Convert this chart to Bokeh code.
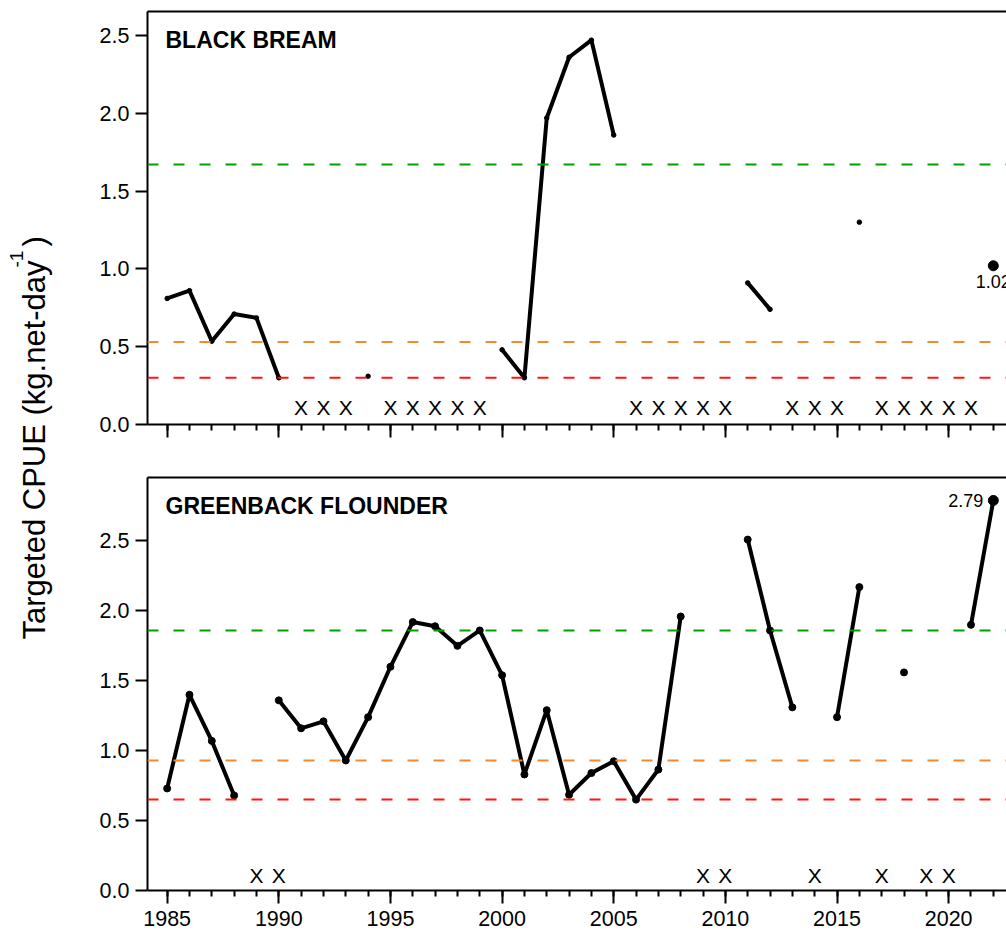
import math
import numpy as np
from bokeh.plotting import figure
from bokeh.layouts import row, column
from bokeh.models import (Span, LinearAxis, SingleIntervalTicker, FixedTicker,
                          NumeralTickFormatter, CustomJSTickFormatter, Range1d)
from bokeh.core.properties import value
from bokeh.embed import file_html
from bokeh.resources import INLINE

nan = float("nan")
years = list(range(1985, 2023))

# Targeted CPUE (kg per net-day); nan = no estimate for that year
black_bream = [0.81, 0.86, 0.535, 0.71, 0.685, 0.30, nan, nan, nan, 0.31,
               nan, nan, nan, nan, nan, 0.48, 0.30, 1.97, 2.36, 2.47,
               1.86, nan, nan, nan, nan, nan, 0.91, 0.74, nan, nan,
               nan, 1.30, nan, nan, nan, nan, nan, 1.02]
greenback_flounder = [0.73, 1.40, 1.07, 0.68, nan, 1.36, 1.16, 1.21, 0.93, 1.24,
                      1.60, 1.92, 1.89, 1.75, 1.86, 1.54, 0.83, 1.29, 0.685, 0.84,
                      0.925, 0.65, 0.865, 1.96, nan, nan, 2.51, 1.86, 1.31, nan,
                      1.24, 2.17, nan, 1.56, nan, nan, 1.90, 2.79]

# years flagged with an "X" (insufficient data)
bb_flagged = [1991, 1992, 1993, 1995, 1996, 1997, 1998, 1999,
              2006, 2007, 2008, 2009, 2010, 2013, 2014, 2015,
              2017, 2018, 2019, 2020, 2021]
gf_flagged = [1989, 1990, 2009, 2010, 2014, 2017, 2019, 2020]

# reference levels: target, threshold, limit
bb_levels = [1.67, 0.53, 0.30]
gf_levels = [1.86, 0.93, 0.65]
level_colors = ["#00A000", "#F28A30", "#FF1414"]

y_ticks = [0.0, 0.5, 1.0, 1.5, 2.0, 2.5]

FONT = value("Liberation Sans")
X_START, X_END = 1984.12, 2022.59
FRAME_W, FRAME_H = 859, 413
PX_PER_YEAR = FRAME_W / (X_END - X_START)


def panel(title, vals, levels, flagged, y_max, height, b_top, b_bottom,
          show_years, dot_size, last_label_side):
    p = figure(width=926, height=height,
               x_range=Range1d(X_START, X_END), y_range=Range1d(0, y_max),
               x_axis_type=None, y_axis_type=None,
               output_backend="svg", toolbar_location=None,
               min_border_left=67, min_border_right=0,
               min_border_top=b_top, min_border_bottom=b_bottom)
    p.outline_line_color = None
    p.background_fill_color = "white"

    xa = LinearAxis(ticker=SingleIntervalTicker(interval=5, num_minor_ticks=5))
    xa.axis_line_width = 2
    xa.major_tick_line_width = 2
    xa.minor_tick_line_width = 2
    xa.major_tick_in = 0
    xa.major_tick_out = 13
    xa.minor_tick_in = 0
    xa.minor_tick_out = 6
    xa.major_label_text_font = "Liberation Sans"
    xa.major_label_text_color = "black"
    xa.major_label_text_font_size = "21.5px"
    if show_years:
        xa.major_label_standoff = 7
    else:
        xa.formatter = CustomJSTickFormatter(code="return ''")
        xa.major_label_standoff = 0
    p.add_layout(xa, "below")

    ya = LinearAxis(ticker=FixedTicker(ticks=y_ticks),
                    formatter=NumeralTickFormatter(format="0.0"))
    ya.axis_line_width = 2
    ya.major_tick_line_width = 2
    ya.major_tick_in = 0
    ya.major_tick_out = 12
    ya.minor_tick_line_color = None
    ya.major_label_text_font = "Liberation Sans"
    ya.major_label_text_font_size = "21.5px"
    ya.major_label_text_color = "black"
    ya.major_label_standoff = 6
    p.add_layout(ya, "left")

    # top edge of the frame
    top = LinearAxis(ticker=FixedTicker(ticks=[]))
    top.axis_line_width = 2
    top.major_tick_line_color = None
    top.minor_tick_line_color = None
    top.major_label_standoff = 0
    p.add_layout(top, "above")

    for lv, col in zip(levels, level_colors):
        p.add_layout(Span(location=lv, dimension="width", line_color=col,
                          line_dash="11 15", line_width=2))

    xs = np.array(years, dtype=float)
    ys = np.array(vals, dtype=float)
    p.line(xs, ys, line_color="black", line_width=4, line_join="round")
    ok = np.isfinite(ys)
    p.scatter(xs[ok][:-1], ys[ok][:-1], size=dot_size, color="black")
    p.scatter([xs[-1]], [ys[-1]], size=10, color="black")

    if last_label_side == "below":
        p.text(x=[xs[-1]], y=[ys[-1]], text=[f"{ys[-1]:.2f}"],
               text_align="center", text_baseline="top", y_offset=9,
               text_font=FONT, text_font_size="18px", text_color="black")
    else:
        p.text(x=[xs[-1]], y=[ys[-1]], text=[f"{ys[-1]:.2f}"],
               text_align="right", text_baseline="middle", x_offset=-10,
               text_font=FONT, text_font_size="18px", text_color="black")

    p.text(x=flagged, y=[0.11] * len(flagged), text=["X"] * len(flagged),
           text_align="center", text_baseline="middle",
           text_font=FONT, text_font_size="21px", text_color="black")

    # panel title, 18 px in from the left edge, centred 28 px below the top
    title_x = X_START + 18 / PX_PER_YEAR
    title_y = y_max * (1 - 28 / FRAME_H)
    p.text(x=[title_x], y=[title_y], text=[title], text_align="left",
           text_baseline="middle", text_font=FONT,
           text_font_style="bold", text_font_size="23px", text_color="black")
    return p


p_top = panel("BLACK BREAM", black_bream, bb_levels, bb_flagged,
              2.654, 460, 11, 36, False, 4.5, "below")
p_bot = panel("GREENBACK FLOUNDER", greenback_flounder, gf_levels, gf_flagged,
              2.954, 474, 17, 44, True, 7, "left")

# shared y-axis title with a raised "-1"
lab = figure(width=80, height=934, x_range=Range1d(0, 80), y_range=Range1d(0, 934),
             x_axis_type=None, y_axis_type=None, output_backend="svg",
             toolbar_location=None, min_border=0)
lab.outline_line_color = None
lab.text(x=[34], y=[934 - 639], text=["Targeted CPUE (kg.net-day"],
         angle=math.pi / 2, text_align="left", text_baseline="middle",
         text_font=FONT, text_font_size="31px", text_color="black")
lab.text(x=[16], y=[934 - 267], text=["-1"], angle=math.pi / 2,
         text_align="left", text_baseline="middle", text_font=FONT,
         text_font_size="19px", text_color="black")
lab.text(x=[34], y=[934 - 246], text=[")"], angle=math.pi / 2,
         text_align="left", text_baseline="middle", text_font=FONT,
         text_font_size="31px", text_color="black")

layout = row(lab, column(p_top, p_bot))

with open("out.html", "w") as f:
    f.write(file_html(layout, INLINE))
